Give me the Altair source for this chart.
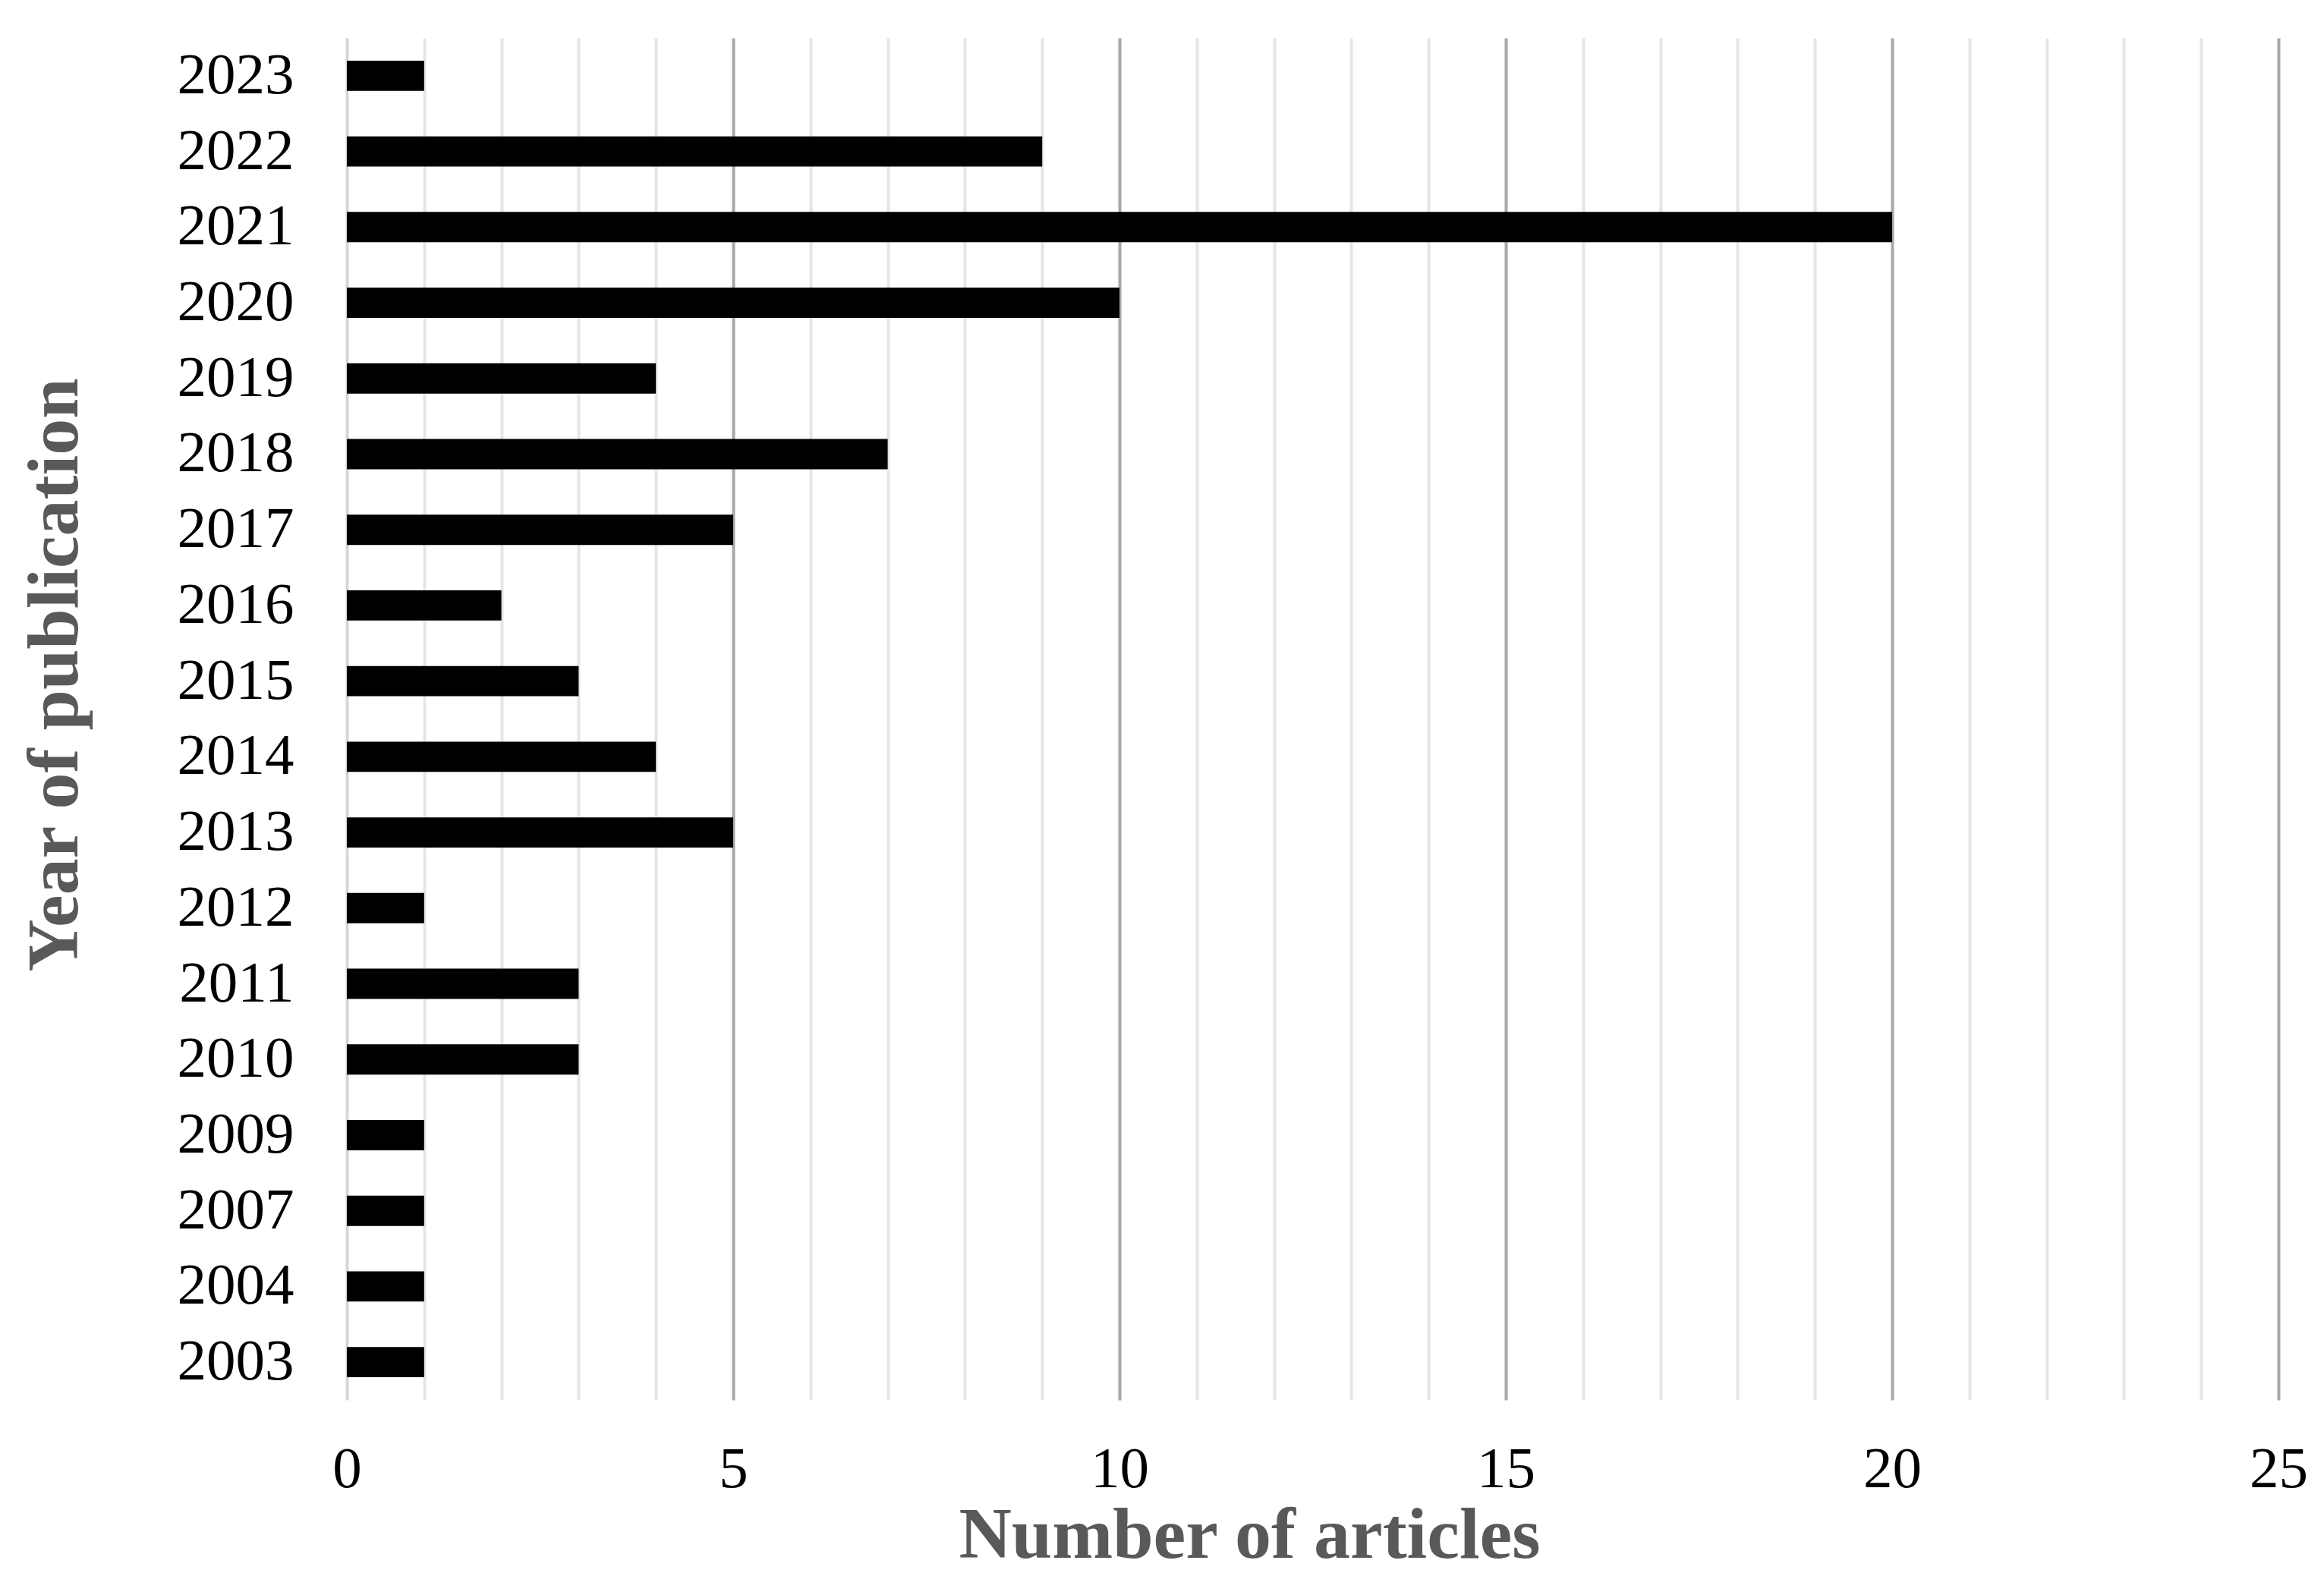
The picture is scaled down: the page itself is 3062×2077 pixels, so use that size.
import altair as alt
import pandas as pd

years = ["2023", "2022", "2021", "2020", "2019", "2018", "2017", "2016", "2015",
         "2014", "2013", "2012", "2011", "2010", "2009", "2007", "2004", "2003"]
articles = [1, 9, 20, 10, 4, 7, 5, 2, 3, 4, 5, 1, 3, 3, 1, 1, 1, 1]
x_ticks = list(range(0, 26))

df = pd.DataFrame({"year": years, "articles": articles})

grid_color = {
    "condition": [
        {"test": "datum.value === 0", "value": "#d6d6d6"},
        {"test": "datum.value % 5 === 0", "value": "#a8a8a8"},
    ],
    "value": "#e6e6e6",
}

chart = alt.Chart(df).mark_bar(color="black").encode(
    x=alt.X(
        "articles:Q",
        scale=alt.Scale(domain=[0, 25], nice=False, zero=True),
        axis=alt.Axis(
            title="Number of articles",
            values=x_ticks,
            labelExpr="datum.value % 5 === 0 ? datum.label : ''",
            grid=True,
            gridColor=grid_color,
            gridWidth=4,
            domain=False,
            ticks=False,
            labelFont="Liberation Serif",
            labelFontSize=77,
            labelColor="black",
            labelPadding=53,
            labelBaseline="top",
            labelFlush=False,
            titleFont="Liberation Serif",
            titleFontSize=96,
            titleFontWeight="bold",
            titleColor="#595959",
            titleX=1189,
            titleY=178,
            titleAlign="center",
            titleBaseline="middle",
        ),
    ),
    y=alt.Y(
        "year:N",
        sort=years,
        scale=alt.Scale(paddingInner=0.6, paddingOuter=0.3),
        axis=alt.Axis(
            title="Year of publication",
            grid=False,
            domain=False,
            ticks=False,
            labelFont="Liberation Serif",
            labelFontSize=77,
            labelColor="black",
            labelPadding=70,
            titleFont="Liberation Serif",
            titleFontSize=96,
            titleFontWeight="bold",
            titleColor="#595959",
            titleAngle=270,
            titleX=-385,
            titleY=839,
            titleAlign="center",
            titleBaseline="middle",
        ),
    ),
).properties(
    width=2545,
    height=1795,
    autosize=alt.AutoSizeParams(type="none"),
    padding={"left": 449, "top": 42, "right": 45, "bottom": 222},
).configure_view(stroke=None)

chart.save("out.html", embed_options={"renderer": "svg", "actions": False})
